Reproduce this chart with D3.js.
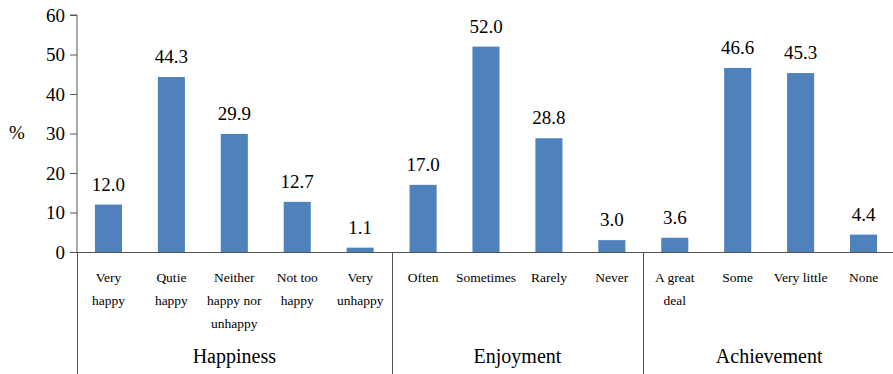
<!DOCTYPE html>
<html><head><meta charset="utf-8">
<script src="https://cdn.jsdelivr.net/npm/d3@7"></script>
<style>body{margin:0;background:#fff}svg{display:block}</style>
</head><body><svg id="c" width="893" height="374"></svg>
<script>
const categories = [["Very","happy"],["Qutie","happy"],["Neither","happy nor","unhappy"],["Not too","happy"],["Very","unhappy"],
  ["Often"],["Sometimes"],["Rarely"],["Never"],["A great","deal"],["Some"],["Very little"],["None"]];
const values = [12.0,44.3,29.9,12.7,1.1,17.0,52.0,28.8,3.0,3.6,46.6,45.3,4.4];
const groups = ["Happiness","Enjoyment","Achievement"];
const groupSizes = [5,4,4];
const yTicks = [0,10,20,30,40,50,60];

const FONT = "'Liberation Serif', 'DejaVu Serif', serif";
const svg = d3.select("#c");
const x0 = 77, x1 = 895, yTop = 15, yBot = 252;
const x = d3.scaleBand().domain(d3.range(values.length)).range([x0,x1]).paddingInner(0.57).paddingOuter(0.285);
const y = d3.scaleLinear().domain([0,60]).range([yBot,yTop]);
const axisColor = "#555";
function txt(sel){ return sel.style("font-family",FONT).style("fill","#000"); }

svg.selectAll("rect.bar").data(values).enter().append("rect")
  .attr("x",(d,i)=>x(i)).attr("y",d=>y(d)).attr("width",x.bandwidth()).attr("height",d=>y(0)-y(d))
  .attr("fill","#4f81bd");

const ya = svg.append("g").attr("transform",`translate(${x0},0)`)
  .call(d3.axisLeft(y).tickValues(yTicks).tickSize(7).tickPadding(5).tickFormat(d3.format("d")));
ya.attr("font-family",null);
ya.select(".domain").attr("stroke",axisColor).attr("d",`M-7,${yTop}H0V${yBot}`);
ya.selectAll(".tick line").attr("stroke",axisColor);
txt(ya.selectAll(".tick text")).style("font-size","19px");

svg.append("line").attr("x1",x0-7).attr("x2",893).attr("y1",yBot+0.5).attr("y2",yBot+0.5).attr("stroke",axisColor);

txt(svg.append("text").attr("x",17).attr("y",139).attr("text-anchor","middle").style("font-size","19px").text("%"));

txt(svg.selectAll("text.val").data(values).enter().append("text")
  .attr("x",(d,i)=>x(i)+x.bandwidth()/2).attr("y",d=>y(d)-14).attr("text-anchor","middle")
  .style("font-size","19px").text(d=>d.toFixed(1)));

categories.forEach((lines,i)=>{
  const t = txt(svg.append("text").attr("x",x(i)+x.bandwidth()/2).attr("y",282).attr("text-anchor","middle").style("font-size","13.5px"));
  lines.forEach((l,j)=>t.append("tspan").attr("x",x(i)+x.bandwidth()/2).attr("dy",j?23:0).text(l));
});

const step = x.step();
let start = 0;
const bounds = [0];
groupSizes.forEach(s=>{start+=s;bounds.push(start);});
bounds.forEach(b=>{
  const bx = Math.round(x0 + b*step)+0.5;
  if (bx < 893) svg.append("line").attr("x1",bx).attr("x2",bx).attr("y1",yBot).attr("y2",374).attr("stroke",axisColor);
});
groups.forEach((g,k)=>{
  const cx = x0 + (bounds[k]+bounds[k+1])/2*step;
  txt(svg.append("text").attr("x",cx).attr("y",363).attr("text-anchor","middle").style("font-size","20px").text(g));
});
</script></body></html>
